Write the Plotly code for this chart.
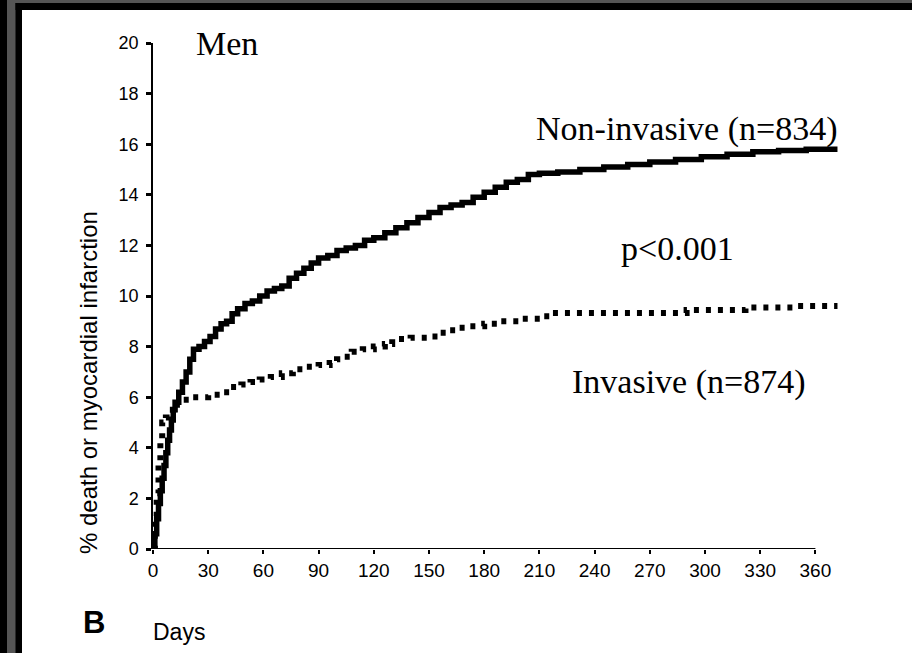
import plotly.graph_objects as go

# ---- data ----
non_days = [0, 1, 2, 3, 4, 5, 6, 7, 8, 9, 10, 11, 12, 14, 16, 18, 20, 22, 25, 28,
            31, 34, 37, 40, 43, 46, 50, 54, 58, 62, 66, 70, 74, 78, 82, 86, 90, 95, 100, 105,
            110, 115, 120, 126, 132, 138, 144, 150, 156, 162, 168, 174, 180, 186, 192, 198, 204, 210, 220, 232,
            245, 258, 270, 284, 298, 312, 326, 340, 355, 372]
non_pct = [0, 0.6, 1.2, 1.8, 2.3, 2.8, 3.3, 3.8, 4.3, 4.7, 5.1, 5.5, 5.8, 6.2, 6.6, 7.0, 7.5, 7.9, 8.0, 8.2,
           8.4, 8.7, 8.9, 9.0, 9.3, 9.5, 9.7, 9.8, 10.0, 10.2, 10.3, 10.4, 10.7, 10.9, 11.1, 11.3, 11.5, 11.6, 11.8, 11.9,
           12.0, 12.2, 12.3, 12.5, 12.7, 12.9, 13.1, 13.3, 13.5, 13.6, 13.7, 13.9, 14.1, 14.3, 14.5, 14.6, 14.8, 14.85, 14.9, 15.0,
           15.1, 15.2, 15.3, 15.4, 15.5, 15.6, 15.7, 15.75, 15.8, 15.8]

inv_days = [0, 1, 2, 3, 4, 5, 7, 9, 11, 13, 20, 30, 38, 42, 48, 53, 58, 64, 70, 76,
            82, 90, 96, 100, 104, 108, 114, 120, 126, 130, 140, 150, 156, 161, 166, 172, 180, 188, 200, 212,
            217, 290, 322, 350, 372]
inv_pct = [0, 1.3, 2.2, 3.3, 4.2, 5.0, 5.2, 5.5, 5.7, 5.9, 6.0, 6.1, 6.2, 6.4, 6.5, 6.6, 6.7, 6.8, 6.95, 7.1,
           7.2, 7.27, 7.35, 7.5, 7.6, 7.8, 7.9, 8.0, 8.1, 8.3, 8.35, 8.4, 8.55, 8.65, 8.75, 8.8, 8.9, 9.0, 9.1, 9.2,
           9.33, 9.45, 9.55, 9.6, 9.6]

x_ticks = [0, 30, 60, 90, 120, 150, 180, 210, 240, 270, 300, 330, 360]
y_ticks = [0, 2, 4, 6, 8, 10, 12, 14, 16, 18, 20]

W, H = 912, 653
L, R, T, B = 153, 69, 43, 104
pw, ph = W - L - R, H - T - B

def px(x):
    return (x - L) / pw

def py(y):
    return (H - B - y) / ph

fig = go.Figure()
fig.add_trace(go.Scatter(x=non_days, y=non_pct, mode="lines", line_shape="hv",
                         line=dict(color="black", width=5.5), name="Non-invasive"))
fig.add_trace(go.Scatter(x=inv_days, y=inv_pct, mode="lines", line_shape="hv",
                         line=dict(color="black", width=6, dash="5px,7px"), name="Invasive"))

serif = "Liberation Serif"
sans = "Liberation Sans"
ann = [
    dict(text="Men", x=px(194), y=py(43), size=34, fam=serif),
    dict(text="Non-invasive (n=834)", x=px(534), y=py(129), size=34, fam=serif),
    dict(text="p<0.001", x=px(619), y=py(248), size=34, fam=serif),
    dict(text="Invasive (n=874)", x=px(570), y=py(382), size=34, fam=serif),
    dict(text="Days", x=px(151), y=py(632), size=23, fam=sans),
    dict(text="<b>B</b>", x=px(81), y=py(622), size=31, fam=sans),
]
for a in ann:
    fig.add_annotation(text=a["text"], x=a["x"], y=a["y"], xref="paper", yref="paper",
                       xanchor="left", yanchor="middle", showarrow=False,
                       font=dict(family=a["fam"], size=a["size"], color="black"))
fig.add_annotation(text="% death or myocardial infarction", x=px(88), y=py(383),
                   xref="paper", yref="paper", textangle=-90, showarrow=False,
                   xanchor="center", yanchor="middle",
                   font=dict(family=sans, size=24, color="black"))

shapes = [
    dict(x0=0, x1=16, y0=0, y1=H, color="#555555"),
    dict(x0=0, x1=W, y0=0, y1=3, color="#555555"),
    dict(x0=0, x1=7, y0=0, y1=H, color="black"),
    dict(x0=15.5, x1=22, y0=3, y1=H, color="black"),
    dict(x0=15.5, x1=W, y0=3, y1=10, color="black"),
]
for s in shapes:
    fig.add_shape(type="rect", xref="paper", yref="paper",
                  x0=px(s["x0"]), x1=px(s["x1"]), y0=py(s["y1"]), y1=py(s["y0"]),
                  fillcolor=s["color"], line=dict(width=0), layer="above")
# x axis line ends at the last tick (360)
fig.add_shape(type="line", xref="x", yref="y", x0=0, x1=x_ticks[-1], y0=0, y1=0,
              line=dict(color="black", width=2))

fig.update_layout(
    width=W, height=H, margin=dict(l=L, r=R, t=T, b=B),
    paper_bgcolor="white", plot_bgcolor="white", showlegend=False,
    xaxis=dict(range=[0, 375], tickvals=x_ticks, ticktext=[str(v) for v in x_ticks],
               showline=False, showgrid=False, zeroline=False,
               ticks="outside", ticklen=4, tickwidth=2, tickcolor="black",
               tickfont=dict(family=sans, size=19, color="black")),
    yaxis=dict(range=[0, 20], tickvals=y_ticks, ticktext=[str(v) for v in y_ticks],
               showline=True, linecolor="black", linewidth=1.5,
               showgrid=False, zeroline=False,
               ticks="outside", ticklen=5, tickwidth=2.5, tickcolor="black",
               ticklabelstandoff=4,
               tickfont=dict(family=sans, size=18, color="black")),
)
fig.write_html("out.html")
